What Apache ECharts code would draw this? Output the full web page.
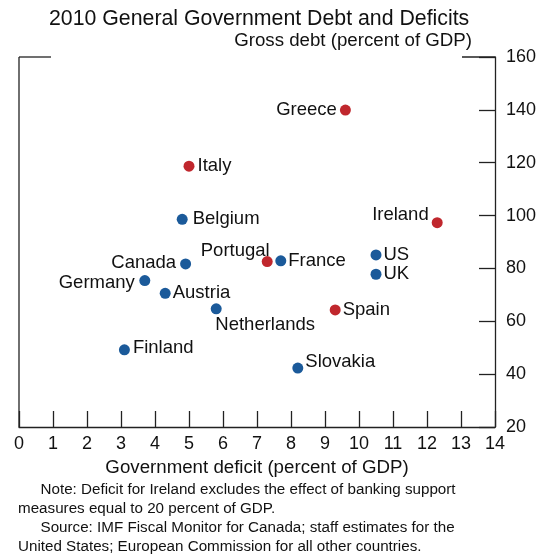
<!DOCTYPE html>
<html>
<head>
<meta charset="utf-8">
<script src="https://cdn.jsdelivr.net/npm/echarts@6/dist/echarts.min.js"></script>
<style>
html,body{margin:0;padding:0;background:#fff;}
#chart{width:542px;height:557px;}
</style>
</head>
<body>
<div id="chart"></div>
<script>
// ---- data ----
const countries = ['Greece','Italy','Belgium','Ireland','Portugal','France','Canada','US','UK','Germany','Austria','Netherlands','Spain','Finland','Slovakia'];
const deficit   = [9.6, 5.0, 4.8, 12.3, 7.3, 7.7, 4.9, 10.5, 10.5, 3.7, 4.3, 5.8, 9.3, 3.1, 8.2];
const debt      = [139.9, 118.7, 98.6, 97.3, 82.6, 82.9, 81.7, 85.1, 77.8, 75.4, 70.6, 64.7, 64.3, 49.2, 42.3];
const euroArea  = [true, true, false, true, true, false, false, false, false, false, false, false, true, false, false];
const xTicks = [0,1,2,3,4,5,6,7,8,9,10,11,12,13,14];
const yTicks = [20,40,60,80,100,120,140,160];

// ---- presentation ----
const FONT = '"Liberation Sans", Arial, sans-serif';
const RED = '#C0272D', BLUE = '#1B5A9A';
const labelStyle = {
  Greece:      {position:'left',  distance:3},
  Italy:       {position:'right', distance:3},
  Belgium:     {position:'right', distance:5},
  Ireland:     {position:[-3, -2.5], align:'right', verticalAlign:'middle'},
  Portugal:    {position:[-26.5, -5.5], align:'center', verticalAlign:'middle'},
  France:      {position:'right', distance:2},
  Canada:      {position:[-4, 4], align:'right', verticalAlign:'middle'},
  US:          {position:'right', distance:2},
  UK:          {position:'right', distance:2},
  Germany:     {position:[-4.5, 7.5], align:'right', verticalAlign:'middle'},
  Austria:     {position:'right', distance:2},
  Netherlands: {position:[54.5, 21.5], align:'center', verticalAlign:'middle'},
  Spain:       {position:'right', distance:2},
  Finland:     {position:[14, 3.5], align:'left', verticalAlign:'middle'},
  Slovakia:    {position:[13, -0.5], align:'left', verticalAlign:'middle'}
};

const data = countries.map((c, i) => ({
  name: c,
  value: [deficit[i], debt[i]],
  itemStyle: {color: euroArea[i] ? RED : BLUE, opacity:1},
  label: Object.assign({show:true, formatter:c, color:'#111', fontSize:18.5, fontFamily:FONT}, labelStyle[c])
}));

const chart = echarts.init(document.getElementById('chart'));
const lineCol = '#222';
chart.setOption({
  animation:false,
  backgroundColor:'#fff',
  title:[
    {text:'2010 General Government Debt and Deficits', left:49, top:9, padding:0,
     textStyle:{fontFamily:FONT, fontSize:21.3, fontWeight:'normal', color:'#111'}},
    {text:'Gross debt (percent of GDP)', right:70, top:31, padding:0,
     textStyle:{fontFamily:FONT, fontSize:18.7, fontWeight:'normal', color:'#111'}},
    {text:'Note: Deficit for Ireland excludes the effect of banking support', left:40.5, top:482, padding:0,
     textStyle:{fontFamily:FONT, fontSize:15.2, fontWeight:'normal', color:'#111'}},
    {text:'measures equal to 20 percent of GDP.', left:18, top:501, padding:0,
     textStyle:{fontFamily:FONT, fontSize:15.2, fontWeight:'normal', color:'#111'}},
    {text:'Source: IMF Fiscal Monitor for Canada; staff estimates for the', left:40.5, top:520, padding:0,
     textStyle:{fontFamily:FONT, fontSize:15.2, fontWeight:'normal', color:'#111'}},
    {text:'United States; European Commission for all other countries.', left:18, top:539, padding:0,
     textStyle:{fontFamily:FONT, fontSize:15.2, fontWeight:'normal', color:'#111'}}
  ],
  grid:{left:19, right:47, top:57, bottom:130, show:false},
  xAxis:{
    type:'value', min:xTicks[0], max:xTicks[xTicks.length-1], interval:1,
    position:'bottom',
    name:'Government deficit (percent of GDP)', nameLocation:'middle', nameGap:30,
    nameTextStyle:{fontFamily:FONT, fontSize:18.7, color:'#111'},
    axisLine:{show:true, lineStyle:{color:lineCol, width:1.3}},
    axisTick:{show:true, inside:true, length:16, lineStyle:{color:lineCol, width:1.3}},
    axisLabel:{fontFamily:FONT, fontSize:18, color:'#111', margin:8,
      formatter: v => xTicks.includes(v) ? String(v) : ''},
    splitLine:{show:false}
  },
  yAxis:{
    type:'value', min:yTicks[0], max:yTicks[yTicks.length-1], interval:20, position:'right',
    axisLine:{show:true, onZero:false, lineStyle:{color:lineCol, width:1.3}},
    axisTick:{show:true, inside:true, length:16, lineStyle:{color:lineCol, width:1.3}},
    axisLabel:{fontFamily:FONT, fontSize:18, color:'#111', margin:11,
      formatter: v => yTicks.includes(v) ? String(v) : ''},
    splitLine:{show:false}
  },
  graphic:[
    {type:'line', shape:{x1:19, y1:57, x2:19, y2:427}, style:{stroke:lineCol, lineWidth:1.3}},
    {type:'line', shape:{x1:19, y1:57, x2:51, y2:57}, style:{stroke:lineCol, lineWidth:1.3}},
    {type:'line', shape:{x1:462, y1:57, x2:495, y2:57}, style:{stroke:lineCol, lineWidth:1.3}}
  ],
  series:[{
    type:'scatter',
    symbol:'circle', symbolSize:11,
    data:data,
    emphasis:{disabled:true}
  }]
});
</script>
</body>
</html>
